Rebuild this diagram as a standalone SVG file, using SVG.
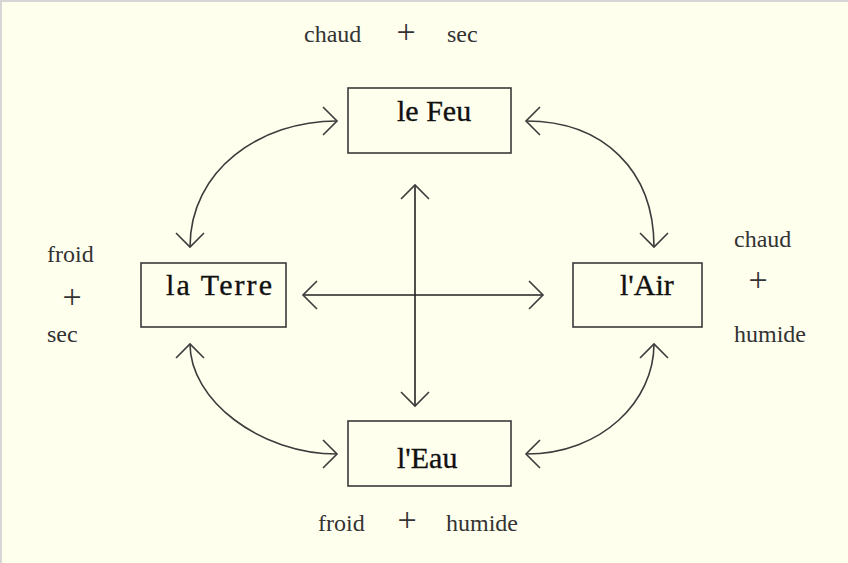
<svg xmlns="http://www.w3.org/2000/svg" width="848" height="563" viewBox="0 0 848 563">
  <style>
    .bg { fill: #FFFFEE; }
    .frame { stroke: #D6D6D6; stroke-width: 2; }
    .box { fill: none; stroke: #3a3a3a; stroke-width: 1.6; }
    .label { font-family: "Liberation Serif", "Times New Roman", serif; font-size: 30px; fill: #111; stroke: #111; stroke-width: 0.35; }
    .note { font-family: "Liberation Serif", "Times New Roman", serif; font-size: 24px; fill: #333; }
    .plus { font-family: "Liberation Serif", "Times New Roman", serif; font-size: 34px; fill: #333; text-anchor: middle; }
    .link { fill: none; stroke: #3c3c3c; stroke-width: 1.6; }
    .axis { fill: none; stroke: #222; stroke-width: 1.6; }
  </style>
  <defs>
    <marker id="head" markerUnits="userSpaceOnUse" markerWidth="40" markerHeight="40" refX="0" refY="0" viewBox="-20 -20 40 40" orient="auto-start-reverse" overflow="visible">
      <path d="M-14,-14 L0,0 L-14,14" fill="none" stroke="#3c3c3c" stroke-width="1.6"/>
    </marker>
  </defs>

  <rect class="bg" x="0" y="0" width="848" height="563"/>
  <line class="frame" x1="1" y1="0" x2="1" y2="563"/>
  <line class="frame" x1="0" y1="1" x2="848" y2="1"/>

  <!-- connectors -->
  <g id="connectors">
    <path class="link" d="M190,247 C190,170 260,121 337,121" marker-start="url(#head)" marker-end="url(#head)"/>
    <path class="link" d="M526,121 C603,121 654,170 654,247" marker-start="url(#head)" marker-end="url(#head)"/>
    <path class="link" d="M190,344 C190,400 260,454 337,454" marker-start="url(#head)" marker-end="url(#head)"/>
    <path class="link" d="M526,454 C603,454 654,400 654,344" marker-start="url(#head)" marker-end="url(#head)"/>
    <path class="axis" d="M415,185 L415,406" marker-start="url(#head)" marker-end="url(#head)"/>
    <path class="axis" d="M303,295 L543,295" marker-start="url(#head)" marker-end="url(#head)"/>
  </g>

  <!-- fire -->
  <g id="feu">
    <rect class="box" x="348" y="88" width="163" height="65"/>
    <text class="label" x="397" y="121">le Feu</text>
    <text class="note" x="304" y="42">chaud</text>
    <text class="plus" x="406" y="43">+</text>
    <text class="note" x="447" y="42">sec</text>
  </g>

  <!-- earth -->
  <g id="terre">
    <rect class="box" x="141" y="263" width="145" height="64"/>
    <text class="label" x="166" y="295" textLength="106" lengthAdjust="spacing">la Terre</text>
    <text class="note" x="47" y="262">froid</text>
    <text class="plus" x="72" y="308">+</text>
    <text class="note" x="47" y="342">sec</text>
  </g>

  <!-- air -->
  <g id="air">
    <rect class="box" x="573" y="263" width="129" height="64"/>
    <text class="label" x="620" y="295">l'Air</text>
    <text class="note" x="734" y="247">chaud</text>
    <text class="plus" x="758" y="291">+</text>
    <text class="note" x="734" y="342">humide</text>
  </g>

  <!-- water -->
  <g id="eau">
    <rect class="box" x="348" y="421" width="163" height="65"/>
    <text class="label" x="397" y="468">l'Eau</text>
    <text class="note" x="318" y="531">froid</text>
    <text class="plus" x="407" y="531">+</text>
    <text class="note" x="446" y="531">humide</text>
  </g>
</svg>
